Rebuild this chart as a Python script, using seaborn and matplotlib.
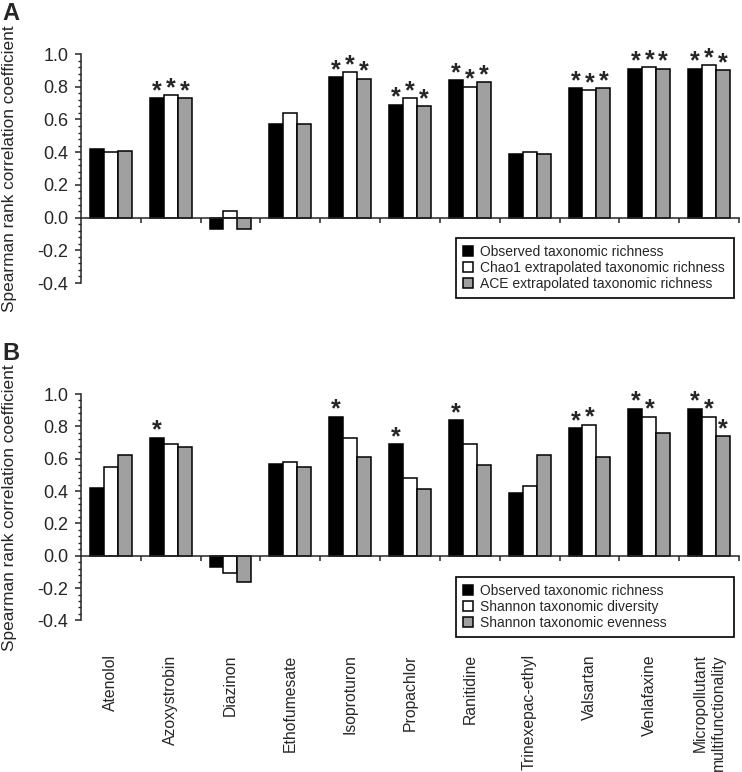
import pandas as pd
import matplotlib
matplotlib.use('Agg')
import matplotlib.pyplot as plt
import seaborn as sns
from matplotlib.patches import Patch
from matplotlib.ticker import MultipleLocator, FixedLocator

compounds = ['Atenolol', 'Azoxystrobin', 'Diazinon', 'Ethofumesate', 'Isoproturon',
             'Propachlor', 'Ranitidine', 'Trinexepac-ethyl', 'Valsartan', 'Venlafaxine',
             'Micropollutant\nmultifunctionality']

# panel A
observed = [0.42, 0.73, -0.07, 0.57, 0.86, 0.69, 0.84, 0.39, 0.79, 0.91, 0.91]
chao1 = [0.40, 0.75, 0.04, 0.64, 0.89, 0.73, 0.80, 0.40, 0.78, 0.92, 0.93]
ace = [0.41, 0.73, -0.07, 0.57, 0.85, 0.68, 0.83, 0.39, 0.79, 0.91, 0.90]
# panel B
shannon_div = [0.55, 0.69, -0.11, 0.58, 0.73, 0.48, 0.69, 0.43, 0.81, 0.86, 0.86]
shannon_even = [0.62, 0.67, -0.165, 0.55, 0.61, 0.41, 0.56, 0.62, 0.61, 0.76, 0.74]

# significance (asterisks)
sig_observed = [0, 1, 0, 0, 1, 1, 1, 0, 1, 1, 1]
sig_chao1 = [0, 1, 0, 0, 1, 1, 1, 0, 1, 1, 1]
sig_ace = [0, 1, 0, 0, 1, 1, 1, 0, 1, 1, 1]
sig_div = [0, 0, 0, 0, 0, 0, 0, 0, 1, 1, 1]
sig_even = [0, 0, 0, 0, 0, 0, 0, 0, 0, 0, 1]

labels_a = ['Observed taxonomic richness', 'Chao1 extrapolated taxonomic richness',
            'ACE extrapolated taxonomic richness']
labels_b = ['Observed taxonomic richness', 'Shannon taxonomic diversity',
            'Shannon taxonomic evenness']
colors = ['black', 'white', '#a0a0a0']

sns.set_style('ticks')
plt.rcParams['font.family'] = ['Liberation Sans', 'DejaVu Sans']


def draw_panel(ax, series, labels, sigs, show_names):
    rows = []
    for lab, vals in zip(labels, series):
        for c, v in zip(compounds, vals):
            rows.append({'compound': c, 'rho': v, 'metric': lab})
    df = pd.DataFrame(rows)
    sns.barplot(data=df, x='compound', y='rho', hue='metric', hue_order=labels,
                order=compounds, palette=colors, saturation=1, width=0.7,
                edgecolor='black', linewidth=1.1, legend=False, ax=ax)

    # asterisks
    for cont, sig, vals in zip(ax.containers, sigs, series):
        for bar, s, v in zip(cont, sig, vals):
            if s:
                ax.text(bar.get_x() + bar.get_width() / 2, v, '*',
                        ha='center', va='baseline', fontsize=18, fontweight='bold')

    ax.set_xlim(-0.5, 10.5)
    ax.set_ylim(-0.4, 1.0)
    ax.yaxis.set_minor_locator(MultipleLocator(0.04))
    ax.set_yticks([-0.4, -0.2, 0.0, 0.2, 0.4, 0.6, 0.8, 1.0])
    ax.set_yticklabels(['-0.4', '-0.2', '0.0', '0.2', '0.4', '0.6', '0.8', '1.0'])
    ax.tick_params(axis='y', which='major', length=4, width=1.1, labelsize=13, pad=5)
    ax.tick_params(axis='y', which='minor', length=2.2, width=1)

    ax.spines['top'].set_visible(False)
    ax.spines['right'].set_visible(False)
    ax.spines['left'].set_linewidth(1.1)
    ax.spines['bottom'].set_linewidth(1.1)
    ax.spines['bottom'].set_position(('data', 0))
    ax.xaxis.set_minor_locator(FixedLocator([i + 0.5 for i in range(len(compounds))]))
    ax.tick_params(axis='x', which='minor', length=3.6, width=1.1, direction='out')
    ax.tick_params(axis='x', which='major', length=0, pad=71, labelsize=11.3)
    if show_names:
        for t in ax.get_xticklabels():
            t.set_rotation(90)
            t.set_va('top')
            t.set_ha('center')
            t.set_multialignment('right')
            t.set_linespacing(1.3)
    else:
        ax.set_xticklabels([])
    ax.set_xlabel('')
    ax.set_ylabel('Spearman rank correlation coefficient', fontsize=12.4)
    ax.yaxis.set_label_coords(-0.097, 0.5)

    handles = [Patch(facecolor=c, edgecolor='black', linewidth=1.1) for c in colors]
    return handles


def add_legend(ax, handles, labels, top):
    leg = ax.legend(handles, labels, loc='upper left', mode='expand',
                    bbox_to_anchor=(0.570, top - 0.26, 0.422, 0.26),
                    fontsize=10, frameon=True, fancybox=False, framealpha=1,
                    edgecolor='black', handlelength=0.75, handleheight=0.75,
                    handletextpad=0.45, labelspacing=0.14, borderpad=0.5,
                    borderaxespad=0)
    leg.get_frame().set_linewidth(1.2)


fig = plt.figure(figsize=(7.42, 7.72), dpi=100)
ax_a = fig.add_axes([0.109, 0.6334, 0.887, 0.2966])
ax_b = fig.add_axes([0.109, 0.1964, 0.887, 0.2932])

h = draw_panel(ax_a, [observed, chao1, ace], labels_a,
               [sig_observed, sig_chao1, sig_ace], False)
add_legend(ax_a, h, labels_a, 0.1965)

h = draw_panel(ax_b, [observed, shannon_div, shannon_even], labels_b,
               [sig_observed, sig_div, sig_even], True)
add_legend(ax_b, h, labels_b, 0.1917)

fig.text(0.003, 0.997, 'A', fontsize=17, fontweight='bold', va='top', ha='left')
fig.text(0.003, 0.557, 'B', fontsize=17, fontweight='bold', va='top', ha='left')

fig.savefig('out.png', dpi=100)
